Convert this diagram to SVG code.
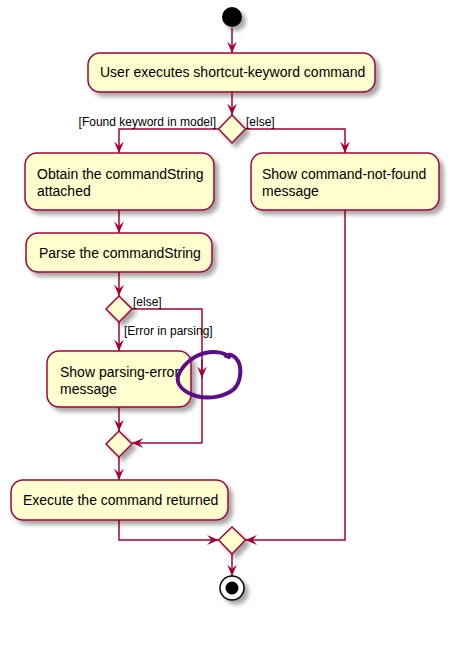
<svg xmlns="http://www.w3.org/2000/svg" width="460" height="645" viewBox="0 0 460 645">
<defs>
<filter id="sh" x="-20%" y="-20%" width="150%" height="160%">
<feGaussianBlur in="SourceAlpha" stdDeviation="2"/>
<feOffset dx="4" dy="4" result="b"/>
<feComponentTransfer><feFuncA type="linear" slope="0.35"/></feComponentTransfer>
<feMerge><feMergeNode/><feMergeNode in="SourceGraphic"/></feMerge>
</filter>
<marker id="ar" markerUnits="userSpaceOnUse" markerWidth="12" markerHeight="10" viewBox="0 0 11 9" refX="10.5" refY="4.5" orient="auto">
<path d="M0,0 L10.5,4.5 L0,9 L4,4.5 Z" fill="#A80036"/>
</marker>
</defs>
<style>
.box{fill:#FEFECE;stroke:#A80036;stroke-width:1.5;filter:url(#sh)}
.dia{fill:#FEFECE;stroke:#A80036;stroke-width:1.5;filter:url(#sh)}
.ln{fill:none;stroke:#A80036;stroke-width:1.5}
.ln.a{marker-end:url(#ar)}
.t{font-family:"Liberation Sans",Arial,sans-serif;font-size:14px;fill:#000}
.lb{font-family:"Liberation Sans",Arial,sans-serif;font-size:12px;fill:#000}
</style>
<rect width="460" height="645" fill="#fff"/>

<g id="connectors">
<path class="ln a" d="M232,28 V53"/>
<path class="ln a" d="M232,92 V115"/>
<path class="ln a" d="M218,129 H119 V153"/>
<path class="ln a" d="M246,129 H345 V153"/>
<path class="ln a" d="M119,210 V233"/>
<path class="ln a" d="M119,272 V296"/>
<path class="ln" d="M132,309 H202 V443"/>
<path class="ln a" d="M202,360 V378"/>
<path class="ln a" d="M202,443 H132"/>
<path class="ln a" d="M119,322 V351"/>
<path class="ln a" d="M119,407 V431"/>
<path class="ln a" d="M119,457 V480"/>
<path class="ln a" d="M119,520 V540 H218.5"/>
<path class="ln a" d="M345,210 V540 H245.5"/>
<path class="ln a" d="M232,554 V576"/>
<text class="lb" x="216" y="126" text-anchor="end">[Found keyword in model]</text>
<text class="lb" x="246" y="126">[else]</text>
<text class="lb" x="133" y="306">[else]</text>
<text class="lb" x="124" y="335">[Error in parsing]</text>
</g>

<g id="start"><circle cx="232" cy="17" r="10" fill="#000" filter="url(#sh)"/></g>

<g id="n1"><rect class="box" x="88" y="53" width="287" height="39" rx="12"/>
<text class="t" x="100" y="77">User executes shortcut-keyword command</text></g>

<g id="d1"><polygon class="dia" points="232,115 245.5,129 232,143 218.5,129"/></g>

<g id="n2"><rect class="box" x="25" y="153" width="189" height="57" rx="12"/>
<text class="t" x="37" y="179">Obtain the commandString</text>
<text class="t" x="37" y="196">attached</text></g>

<g id="n3"><rect class="box" x="251" y="153" width="188" height="57" rx="12"/>
<text class="t" x="262" y="179">Show command-not-found</text>
<text class="t" x="262" y="196">message</text></g>

<g id="n4"><rect class="box" x="26" y="233" width="186" height="39" rx="12"/>
<text class="t" x="39" y="258">Parse the commandString</text></g>

<g id="d2"><polygon class="dia" points="119,296 132,309 119,322 106,309"/></g>

<g id="n5"><rect class="box" x="47" y="351" width="144" height="56" rx="12"/>
<text class="t" x="60" y="377">Show parsing-error</text>
<text class="t" x="60" y="394">message</text></g>

<g id="d3"><polygon class="dia" points="119,431 132,444 119,457 106,444"/></g>

<g id="n6"><rect class="box" x="11" y="480" width="217" height="40" rx="12"/>
<text class="t" x="23" y="505">Execute the command returned</text></g>

<g id="d4"><polygon class="dia" points="232,527 245.5,540 232,554 218.5,540"/></g>

<g id="end"><circle cx="232" cy="588" r="12" fill="#fff" stroke="#000" stroke-width="1.5" filter="url(#sh)"/>
<circle cx="232" cy="588" r="6.5" fill="#000"/></g>

<g id="annotation">
<path d="M229,357 C224,352 214,351 205,353 C192,356 182,366 178,376 C176,385 184,392 196,396 C210,400 226,396 234,389 C241,382 242,368 238,361 C235,356 230,353 226,356" fill="none" stroke="#5B0E8B" stroke-width="4" stroke-linecap="round" stroke-linejoin="round"/>
</g>
</svg>
